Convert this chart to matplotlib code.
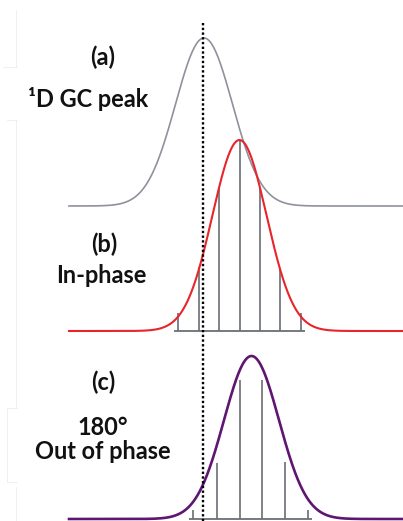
import numpy as np
import matplotlib
matplotlib.use("Agg")
import matplotlib.pyplot as plt

# peak parameters: (a) 1D GC peak, (b) in-phase, (c) 180 deg out of phase
peak_centers = [204, 239.5, 251.5]
peak_sigmas = [28.5, 27, 27.5]
peak_heights = [168, 191, 163]

# modulated slices (stems)
inphase_x = [178, 199, 219, 239.5, 259.5, 280, 301]
inphase_h = [18, 64, 144, 191, 144, 62, 18]
outphase_x = [193, 216.5, 239.5, 262, 285, 308]
outphase_h = [9, 56, 139, 139, 57, 9]

labels_top = ["(a)", "(b)", "(c)"]
labels_sub = ["¹D GC peak", "In-phase", "180°", "Out of phase"]

baselines = [206, 331, 519]
colors = ["#8e929c", "#e8252b", "#5e1670"]
widths = [1.2, 1.5, 1.9]

fig = plt.figure(figsize=(4.03, 5.21), dpi=100)
ax = fig.add_axes([0, 0, 1, 1])
ax.set_xlim(0, 403)
ax.set_ylim(521, 0)
ax.axis("off")

x = np.linspace(69, 403, 800)
for i in range(3):
    y = peak_heights[i] * np.exp(-(x - peak_centers[i]) ** 2 / (2 * peak_sigmas[i] ** 2))
    ax.plot(x, baselines[i] - y, color=colors[i], lw=widths[i], zorder=3)

# stems
stem_col = "#6a6e76"
ax.vlines(inphase_x, baselines[1], [baselines[1] - h for h in inphase_h],
          color=stem_col, lw=1.2, zorder=2)
ax.hlines(baselines[1], 174, 305, color=stem_col, lw=1.3, zorder=4)
ax.vlines(outphase_x, baselines[2], [baselines[2] - h for h in outphase_h],
          color=stem_col, lw=1.2, zorder=2)
ax.hlines(baselines[2], 189, 312, color=stem_col, lw=1.3, zorder=4)

# dotted marker at the 1D apex
ax.plot([203, 203], [23, 521], color="black", lw=1.7,
        linestyle=(0, (1, 1)), zorder=5)

# text - size fitted so "Out of phase" is ~136 px wide
fkw = dict(fontfamily="Lato", fontweight="bold", color="#111111", ha="center")
r = fig.canvas.get_renderer()
probe = ax.text(0, 0, labels_sub[3], fontsize=10, **fkw)
fs = 10 * 136 / probe.get_window_extent(r).width
probe.remove()
fkw["fontsize"] = fs

ax.text(103, 57, labels_top[0], va="center", **fkw)
ax.text(88, 107, labels_sub[0], va="baseline", **fkw)
ax.text(104.5, 244, labels_top[1], va="center", **fkw)
ax.text(101, 283, labels_sub[1], va="baseline", **fkw)
ax.text(103, 382.5, labels_top[2], va="center", **fkw)
ax.text(103, 435, labels_sub[2], va="baseline", **fkw)
ax.text(102.5, 459, labels_sub[3], va="baseline", **fkw)

# faint frame remnants at the left edge
fc = "#eeeeee"
for xs, ys in [([16, 16], [10, 67]), ([3, 17], [67, 67]), ([7, 17], [120, 120]),
               ([16, 16], [120, 408]), ([7, 17], [408, 408]), ([7, 7], [408, 482]),
               ([7, 17], [482, 482]), ([16, 16], [487, 521])]:
    ax.plot(xs, ys, color=fc, lw=0.6)

fig.savefig("out.png", dpi=100)
